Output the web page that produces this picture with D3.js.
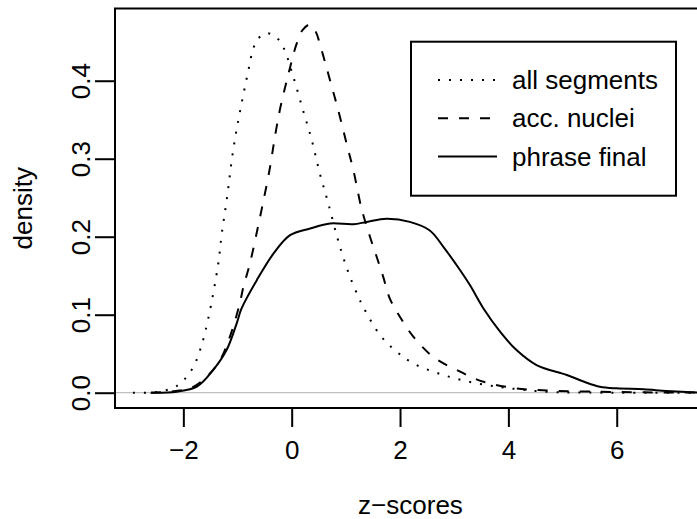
<!DOCTYPE html>
<html>
<head>
<meta charset="utf-8">
<script src="https://cdn.jsdelivr.net/npm/d3@7"></script>
<style>
  body { margin:0; background:#fff; }
  text { font-family: "Liberation Sans", Arial, sans-serif; font-size:26px; fill:#000; }
</style>
</head>
<body>
<div id="containerMap"></div>
<script>
// density of z-scores

var allZ   = [-2.93,-2.49,-2.12,-1.85,-1.69,-1.54,-1.355,-1.29,-1.2,-1.08,-0.95,-0.8,-0.71,-0.62,-0.46,-0.29,-0.155,0.03,0.21,0.37,0.52,0.676,0.83,0.95,1.077,1.23,1.32,1.63,1.94,2.245,2.8,3.42,4.03,4.77,5.5,7.7];
var allD   = [0,0.001,0.0086,0.029,0.055,0.095,0.166,0.204,0.247,0.311,0.362,0.413,0.441,0.454,0.461,0.456,0.443,0.405,0.362,0.324,0.281,0.2425,0.202,0.174,0.1485,0.123,0.11,0.074,0.0525,0.0376,0.0227,0.012,0.0056,0.001,0.0002,0];

var accZ   = [-2.6,-2.31,-1.85,-1.57,-1.32,-1.14,-0.967,-0.89,-0.77,-0.585,-0.52,-0.4,-0.31,-0.22,-0.12,-0.03,0.08,0.2,0.34,0.45,0.52,0.71,0.86,1.015,1.14,1.29,1.445,1.57,1.69,1.81,2,2.245,2.61,3.05,3.54,4.15,4.77,5.69,6.5,7.7];
var accD   = [0,0.001,0.0064,0.0205,0.042,0.072,0.112,0.136,0.166,0.225,0.2466,0.289,0.328,0.362,0.392,0.417,0.445,0.465,0.472,0.462,0.447,0.4,0.362,0.319,0.285,0.236,0.2,0.174,0.1485,0.121,0.097,0.072,0.046,0.029,0.014,0.0056,0.0026,0.0013,0.0005,0.0001];

var finZ   = [-2.6,-2.12,-1.75,-1.45,-1.2,-1.015,-0.925,-0.646,-0.34,-0.03,0.34,0.71,1.137,1.385,1.75,2.18,2.55,2.8,3.11,3.29,3.54,3.85,4.15,4.52,5.08,5.4,5.69,6,6.5,6.92,7.48,7.7];
var finD   = [0,0.0013,0.0077,0.029,0.055,0.089,0.108,0.144,0.178,0.202,0.2105,0.217,0.216,0.219,0.223,0.219,0.208,0.187,0.157,0.138,0.108,0.078,0.0547,0.0355,0.0227,0.014,0.0077,0.0056,0.0045,0.0022,0.0003,0];

var seriesNames = ["all segments","acc. nuclei","phrase final"];
var xTicks = [-2,0,2,4,6];
var yTicks = [0,0.1,0.2,0.3,0.4];

var width = 697, height = 519;
// plot region (right edge falls outside the picture, as in the original)
var pLeft = 115, pRight = 706, pTop = 8.5, pBottom = 408;

var svg = d3.select("#containerMap").append("svg")
      .attr("width", width)
      .attr("height", height);

svg.append("rect").attr("width", width).attr("height", height).style("fill","white");

var x = d3.scaleLinear().domain([-3.2615, 7.648]).range([pLeft, pRight]);
var y = d3.scaleLinear().domain([-0.0196, 0.4926]).range([pBottom, pTop]);

svg.append("clipPath").attr("id","plotclip")
   .append("rect").attr("x",pLeft).attr("y",pTop).attr("width",pRight-pLeft).attr("height",pBottom-pTop);

var g = svg.append("g").attr("clip-path","url(#plotclip)");

// gray zero line
g.append("line")
  .attr("x1", pLeft).attr("x2", pRight)
  .attr("y1", y(0)).attr("y2", y(0))
  .style("stroke","#bebebe").style("stroke-width",1.2);

var line = d3.line()
      .x(function(d){ return x(d[0]); })
      .y(function(d){ return y(Math.max(0, d[1])); })
      .curve(d3.curveCatmullRom.alpha(0.5));

var dashes = ["2,9", "10,11", null];
var series = [d3.zip(allZ, allD), d3.zip(accZ, accD), d3.zip(finZ, finD)];

series.forEach(function(s,i){
  g.append("path")
    .datum(s)
    .attr("d", line)
    .style("fill","none")
    .style("stroke","#000")
    .style("stroke-width",2)
    .style("stroke-dasharray", dashes[i]);
});

// box
svg.append("rect")
  .attr("x",pLeft).attr("y",pTop)
  .attr("width",pRight-pLeft).attr("height",pBottom-pTop)
  .style("fill","none").style("stroke","#000").style("stroke-width",2);

// x axis
var xAxis = d3.axisBottom(x).tickValues(xTicks).tickSize(19)
      .tickFormat(function(d){ return d < 0 ? "\u2212" + Math.abs(d) : d; });
var xa = svg.append("g").attr("transform","translate(0," + pBottom + ")").call(xAxis);
xa.select(".domain").remove();
xa.selectAll("line").style("stroke","#000").style("stroke-width",2);
xa.selectAll("text").style("font-size","26px")
  .attr("dy",null).attr("y",50.5);

// y axis
var yAxis = d3.axisLeft(y).tickValues(yTicks).tickSize(20)
      .tickFormat(d3.format(".1f"));
var ya = svg.append("g").attr("transform","translate(" + pLeft + ",0)").call(yAxis);
ya.select(".domain").remove();
ya.selectAll("line").style("stroke","#000").style("stroke-width",2);
ya.selectAll("text").style("font-size","26px")
  .attr("x",null).attr("dy",null)
  .attr("text-anchor","middle")
  .attr("transform","translate(-25.5,0) rotate(-90)");

// axis titles
svg.append("text")
  .attr("x", (pLeft+pRight)/2).attr("y", 514)
  .attr("text-anchor","middle")
  .text("z\u2212scores");

svg.append("text")
  .attr("transform","translate(32," + (pTop+pBottom)/2 + ") rotate(-90)")
  .attr("text-anchor","middle")
  .text("density");

// legend
var lg = svg.append("g");
lg.append("rect")
  .attr("x",411).attr("y",41.7).attr("width",265).attr("height",154)
  .style("fill","white").style("stroke","#000").style("stroke-width",2);

var rowY = d3.scaleLinear().domain([0,2]).range([80,156.6]);

seriesNames.forEach(function(n,i){
  lg.append("line")
    .attr("x1",438).attr("x2",497)
    .attr("y1",rowY(i)).attr("y2",rowY(i))
    .style("stroke","#000").style("stroke-width",2)
    .style("stroke-dasharray",dashes[i]);
  lg.append("text")
    .attr("x",512).attr("y",rowY(i)).attr("dy","0.35em")
    .text(n);
});
</script>
</body>
</html>
